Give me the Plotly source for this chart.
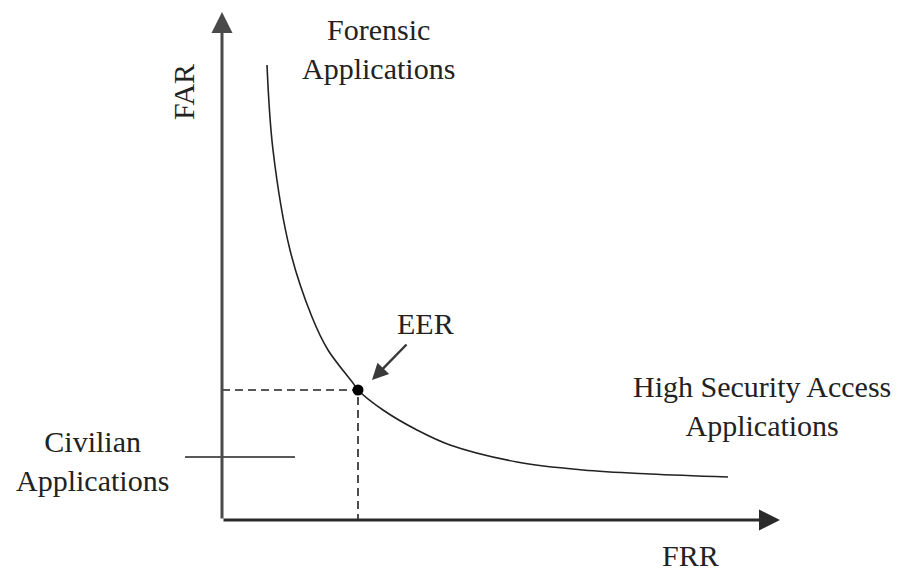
import plotly.graph_objects as go

# FAR / FRR trade-off curve
frr = [0.45, 0.51, 0.68, 0.90, 1.06, 1.31, 1.36, 1.61, 1.95, 2.28, 2.95, 3.61, 4.28, 5.06]
far = [4.55, 3.70, 2.70, 2.03, 1.70, 1.37, 1.30, 1.10, 0.90, 0.75, 0.58, 0.50, 0.46, 0.43]

# equal error rate point
eer_frr = 1.36
eer_far = 1.30

# civilian operating line
civ_x = [-0.37, 0.73]
civ_y = [0.63, 0.63]

x_max = 5.58
y_max = 5.08

FONT = "Liberation Serif, Times New Roman, serif"
INK = "#222222"

fig = go.Figure()

# the curve
fig.add_trace(
    go.Scatter(
        x=frr,
        y=far,
        mode="lines",
        line=dict(color=INK, width=1.6, shape="spline", smoothing=1.0),
        hoverinfo="skip",
    )
)

# dashed guides to the EER point
fig.add_trace(
    go.Scatter(
        x=[0, eer_frr, eer_frr],
        y=[eer_far, eer_far, 0],
        mode="lines",
        line=dict(color=INK, width=1.6, dash="8px,5px"),
        hoverinfo="skip",
    )
)

# civilian line
fig.add_trace(
    go.Scatter(
        x=civ_x,
        y=civ_y,
        mode="lines",
        line=dict(color=INK, width=1.6),
        hoverinfo="skip",
    )
)

# EER marker
fig.add_trace(
    go.Scatter(
        x=[eer_frr],
        y=[eer_far],
        mode="markers",
        marker=dict(color="black", size=11),
        hoverinfo="skip",
    )
)


def arrow(x, y, ax, ay, width, size, color="#3a3a3a"):
    fig.add_annotation(
        x=x, y=y, ax=ax, ay=ay,
        xref="x", yref="y", axref="x", ayref="y",
        text="", showarrow=True,
        arrowhead=2, arrowsize=size, arrowwidth=width,
        arrowcolor=color, standoff=0, startstandoff=0,
    )


# axes with arrow heads
arrow(0, y_max, 0, 0, 3, 1.4, "#4a4a4a")
arrow(x_max, 0, 0, 0, 3, 1.4, "#2a2a2a")
# arrow pointing to EER
arrow(1.50, 1.40, 1.86, 1.77, 2.5, 1.3)

labels = [
    ("Forensic<br>Applications", 1.56, 4.71, 0),
    ("High Security Access<br>Applications", 5.40, 1.14, 0),
    ("Civilian<br>Applications", -1.30, 0.59, 0),
    ("EER", 2.03, 1.97, 0),
    ("FRR", 4.68, -0.35, 0),
    ("FAR", -0.39, 4.28, -90),
]

for text, lx, ly, ang in labels:
    fig.add_annotation(
        x=lx, y=ly, xref="x", yref="y",
        text=text, showarrow=False, textangle=ang,
        font=dict(family=FONT, size=30, color=INK),
        align="center",
    )

fig.update_layout(
    width=903,
    height=573,
    margin=dict(l=0, r=0, t=0, b=0),
    paper_bgcolor="white",
    plot_bgcolor="white",
    showlegend=False,
    xaxis=dict(range=[-2.22, 6.81], visible=False, fixedrange=True),
    yaxis=dict(range=[-0.53, 5.20], visible=False, fixedrange=True),
)

fig.write_html(
    "out.html",
    config={"displayModeBar": False},
    post_script="document.body.style.margin='0px';",
)
